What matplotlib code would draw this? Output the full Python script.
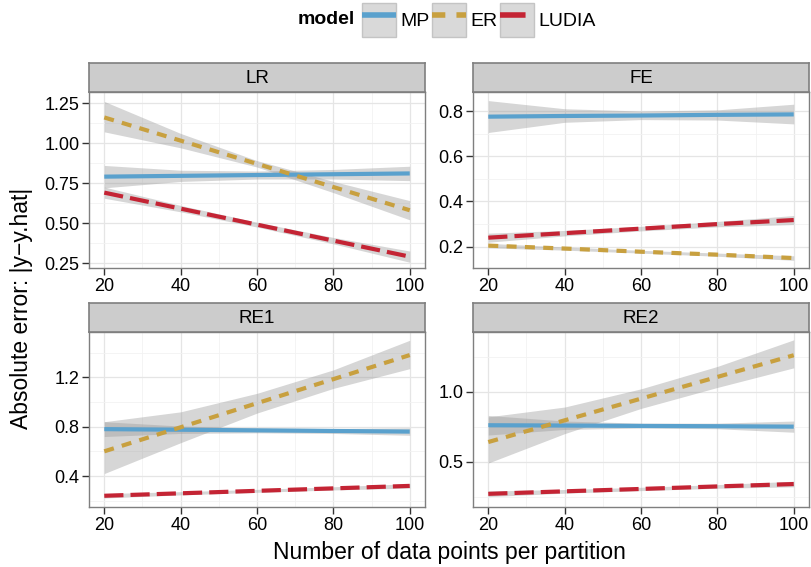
import matplotlib
matplotlib.use("Agg")
import matplotlib.pyplot as plt
from matplotlib.lines import Line2D
from matplotlib.patches import Patch
from matplotlib.legend_handler import HandlerTuple
from matplotlib.ticker import FixedLocator, FormatStrFormatter

plt.rcParams['font.family'] = ['Liberation Sans', 'DejaVu Sans']

# partition sizes
x = [20, 40, 60, 80, 100]
models = ['MP', 'ER', 'LUDIA']
panels = ['LR', 'FE', 'RE1', 'RE2']

# fitted line, lower and upper band per panel and model
lr_mp = [0.79, 0.795, 0.80, 0.805, 0.81]
lr_mp_lo = [0.72, 0.76, 0.775, 0.775, 0.765]
lr_mp_hi = [0.86, 0.83, 0.825, 0.835, 0.855]
lr_er = [1.16, 1.015, 0.87, 0.725, 0.58]
lr_er_lo = [1.07, 0.97, 0.85, 0.69, 0.52]
lr_er_hi = [1.26, 1.06, 0.89, 0.76, 0.64]
lr_lu = [0.69, 0.59, 0.49, 0.39, 0.29]
lr_lu_lo = [0.655, 0.57, 0.475, 0.37, 0.255]
lr_lu_hi = [0.725, 0.61, 0.505, 0.41, 0.325]

fe_mp = [0.775, 0.778, 0.78, 0.783, 0.785]
fe_mp_lo = [0.705, 0.75, 0.762, 0.76, 0.743]
fe_mp_hi = [0.846, 0.81, 0.80, 0.805, 0.83]
fe_er = [0.205, 0.192, 0.178, 0.165, 0.15]
fe_er_lo = [0.195, 0.185, 0.172, 0.158, 0.14]
fe_er_hi = [0.215, 0.199, 0.184, 0.172, 0.16]
fe_lu = [0.24, 0.26, 0.28, 0.30, 0.318]
fe_lu_lo = [0.22, 0.248, 0.27, 0.288, 0.298]
fe_lu_hi = [0.26, 0.272, 0.29, 0.312, 0.338]

re1_mp = [0.78, 0.775, 0.77, 0.765, 0.76]
re1_mp_lo = [0.72, 0.745, 0.75, 0.745, 0.73]
re1_mp_hi = [0.84, 0.805, 0.79, 0.785, 0.79]
re1_er = [0.60, 0.795, 0.99, 1.185, 1.38]
re1_er_lo = [0.42, 0.67, 0.91, 1.11, 1.27]
re1_er_hi = [0.84, 0.92, 1.07, 1.26, 1.50]
re1_lu = [0.24, 0.26, 0.28, 0.30, 0.32]
re1_lu_lo = [0.222, 0.247, 0.268, 0.287, 0.302]
re1_lu_hi = [0.258, 0.273, 0.292, 0.313, 0.338]

re2_mp = [0.76, 0.758, 0.755, 0.753, 0.75]
re2_mp_lo = [0.69, 0.73, 0.74, 0.735, 0.71]
re2_mp_hi = [0.83, 0.79, 0.775, 0.775, 0.79]
re2_er = [0.64, 0.795, 0.95, 1.105, 1.26]
re2_er_lo = [0.49, 0.70, 0.88, 1.03, 1.17]
re2_er_hi = [0.82, 0.89, 1.02, 1.18, 1.37]
re2_lu = [0.27, 0.288, 0.305, 0.323, 0.34]
re2_lu_lo = [0.25, 0.275, 0.293, 0.31, 0.32]
re2_lu_hi = [0.29, 0.301, 0.317, 0.336, 0.36]

data = {
    'LR': [(lr_mp, lr_mp_lo, lr_mp_hi), (lr_er, lr_er_lo, lr_er_hi), (lr_lu, lr_lu_lo, lr_lu_hi)],
    'FE': [(fe_mp, fe_mp_lo, fe_mp_hi), (fe_er, fe_er_lo, fe_er_hi), (fe_lu, fe_lu_lo, fe_lu_hi)],
    'RE1': [(re1_mp, re1_mp_lo, re1_mp_hi), (re1_er, re1_er_lo, re1_er_hi), (re1_lu, re1_lu_lo, re1_lu_hi)],
    'RE2': [(re2_mp, re2_mp_lo, re2_mp_hi), (re2_er, re2_er_lo, re2_er_hi), (re2_lu, re2_lu_lo, re2_lu_hi)],
}

# axis settings per panel: limits, ticks, tick format
ylims = {'LR': (0.219, 1.319), 'FE': (0.106, 0.884), 'RE1': (0.149, 1.567), 'RE2': (0.176, 1.426)}
yticks = {'LR': [0.25, 0.5, 0.75, 1.0, 1.25], 'FE': [0.2, 0.4, 0.6, 0.8],
          'RE1': [0.4, 0.8, 1.2], 'RE2': [0.5, 1.0]}
yfmt = {'LR': '%.2f', 'FE': '%.1f', 'RE1': '%.1f', 'RE2': '%.1f'}
xticks = [20, 40, 60, 80, 100]

colors = ['#5AA1CD', '#C8A03F', '#C42434']
dashes = [None, (2.4, 2.0), (4.6, 1.7)]
band_color = '#999999'
lw = 3.0

W, H = 812, 567
fig = plt.figure(figsize=(W / 100, H / 100), dpi=100)

# panel boxes in pixels: left, top, right, bottom
boxes = {'LR': (89, 92, 425, 268), 'FE': (473, 92, 809, 268),
         'RE1': (89, 332, 425, 507), 'RE2': (473, 332, 809, 507)}
strip_h = 29

for name in panels:
    l, t, r, b = boxes[name]
    ax = fig.add_axes([l / W, 1 - b / H, (r - l) / W, (b - t) / H])
    for (mid, lo, hi), c, d in zip(data[name], colors, dashes):
        ax.fill_between(x, lo, hi, color=band_color, alpha=0.4, lw=0, zorder=2)
        line, = ax.plot(x, mid, color=c, lw=lw, solid_capstyle='butt', zorder=3)
        if d is not None:
            line.set_dashes(d)
            line.set_dash_capstyle('butt')
    ax.set_xlim(16, 104)
    ax.set_ylim(*ylims[name])
    ax.set_xticks(xticks)
    ax.xaxis.set_minor_locator(FixedLocator([30, 50, 70, 90]))
    yt = yticks[name]
    step = yt[1] - yt[0]
    ax.set_yticks(yt)
    ax.yaxis.set_minor_locator(FixedLocator([yt[0] - step / 2] + [v + step / 2 for v in yt]))
    ax.yaxis.set_major_formatter(FormatStrFormatter(yfmt[name]))
    ax.grid(which='major', color='#E5E5E5', lw=0.9, zorder=0)
    ax.grid(which='minor', color='#F2F2F2', lw=0.6, zorder=0)
    ax.set_axisbelow(True)
    for s in ax.spines.values():
        s.set_color('#7F7F7F')
        s.set_linewidth(1.0)
    ax.tick_params(which='major', direction='out', length=5, width=1.0, color='#333333',
                   labelsize=13, labelcolor='black', pad=2)
    ax.tick_params(which='minor', length=0)

    # facet strip
    sax = fig.add_axes([l / W, 1 - t / H, (r - l) / W, strip_h / H])
    sax.set_facecolor('#CCCCCC')
    sax.set_xticks([])
    sax.set_yticks([])
    for s in sax.spines.values():
        s.set_color('#7F7F7F')
        s.set_linewidth(1.2)
    sax.text(0.5, 0.45, name, ha='center', va='center', fontsize=13.5, transform=sax.transAxes)

fig.text(449 / W, 1 - 553 / H, 'Number of data points per partition', ha='center', va='center',
         fontsize=16.5)
fig.text(22 / W, 1 - 308 / H, 'Absolute error: |y\u2212y.hat|', ha='center', va='center',
         rotation=90, fontsize=16.5)

# legend
handles = []
for c, d in zip(colors, dashes):
    p = Patch(facecolor='#D9D9D9', edgecolor='#C4C4C4')
    ln = Line2D([0], [0], color=c, lw=lw + 1, solid_capstyle='butt')
    if d is not None:
        ln.set_dashes(d)
        ln.set_dash_capstyle('butt')
    handles.append((p, ln))
fig.text(326 / W, 1 - 20 / H, 'model', ha='center', va='center', fontsize=14, fontweight='bold')
fig.legend(handles, models, handler_map={tuple: HandlerTuple(ndivide=1, pad=0)},
           loc='center left', bbox_to_anchor=(358 / W, 1 - 20 / H), ncol=3, frameon=False,
           fontsize=14, handlelength=1.75, handleheight=2.3, handletextpad=0.25,
           columnspacing=0.1, borderpad=0.2, borderaxespad=0)

fig.savefig('out.png', dpi=100)
